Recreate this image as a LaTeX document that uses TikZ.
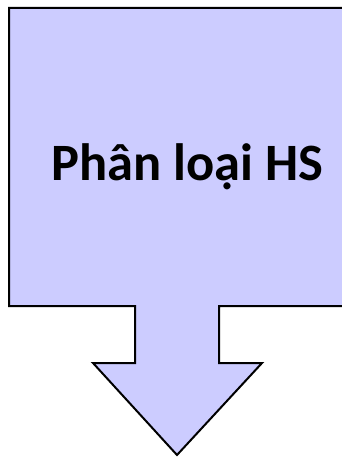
\documentclass[tikz,border=0pt]{standalone}
\usepackage{fontspec}
\setmainfont{Carlito}
\definecolor{arrowfill}{HTML}{CCCCFF}
\tikzset{
  callout/.style={fill=arrowfill, draw=black, line width=2pt, line join=miter},
  label/.style={font=\bfseries\fontsize{52.5}{60}\selectfont, text=black, inner sep=0pt}
}
\begin{document}
\begin{tikzpicture}[x=1pt, y=-1pt]
  \useasboundingbox (0,0) rectangle (342,457);
  \clip (0,0) rectangle (342,457);
  % down-arrow callout
  \draw[callout] (9,8) -- (346,8) -- (346,306) -- (219,306) -- (219,363)
    -- (262,363) -- (177,455) -- (93,363) -- (135,363) -- (135,306)
    -- (9,306) -- cycle;
  \node[label, anchor=base] (title) at (187,180.5) {Phân loại HS};
\end{tikzpicture}
\end{document}
